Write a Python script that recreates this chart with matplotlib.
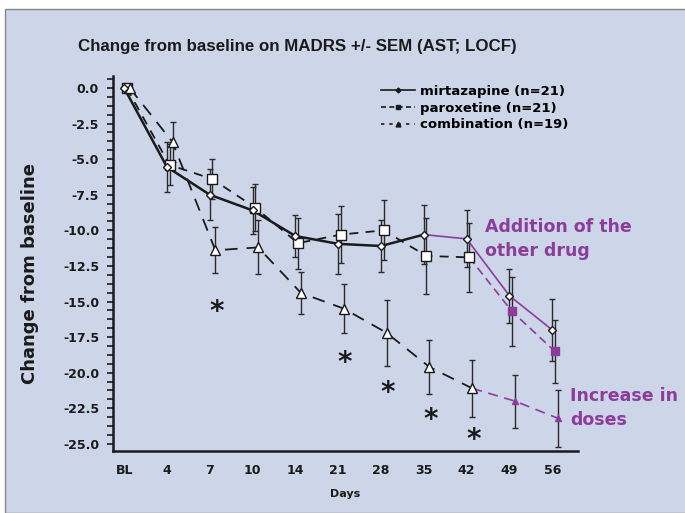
import numpy as np
import matplotlib.pyplot as plt
from matplotlib.lines import Line2D
from matplotlib.patches import Rectangle
from matplotlib.ticker import MultipleLocator

plt.rcParams['font.family'] = 'DejaVu Sans'

days = ['BL', '4', '7', '10', '14', '21', '28', '35', '42', '49', '56']
mirt = [0, -5.55, -7.5, -8.6, -10.4, -10.95, -11.1, -10.3, -10.6, -14.6, -17.0]
mirt_sem = [0, 1.75, 1.8, 1.65, 1.5, 2.1, 1.8, 2.1, 2.0, 1.9, 2.2]
parox = [0, -5.4, -6.4, -8.4, -10.9, -10.3, -10.0, -11.8, -11.9, -15.7, -18.5]
parox_sem = [0, 1.45, 1.4, 1.65, 1.8, 2.0, 2.1, 2.7, 2.4, 2.45, 2.2]
combo = [0, -3.8, -11.4, -11.2, -14.4, -15.5, -17.2, -19.6, -21.1, -22.0, -23.2]
combo_sem = [0, 1.4, 1.6, 1.9, 1.5, 1.7, 2.3, 1.9, 2.0, 1.85, 2.0]

# significance stars (day index, y)
star_idx = [2, 5, 6, 7, 8]
star_y = [-15.4, -19.0, -21.1, -23.0, -24.4]

bg = '#cdd5e8'
purple = '#8c3d9a'
ink = '#1a1a1a'

fig = plt.figure(figsize=(6.85, 5.13), dpi=100, facecolor='white')
fig.patches.append(Rectangle((5 / 685, 0), 1, (513 - 9) / 513, transform=fig.transFigure,
                             facecolor=bg, edgecolor='#888888', lw=1, zorder=-10))
ax = fig.add_axes([113 / 685, 62 / 513, 465 / 685, 375 / 513])
ax.set_facecolor('none')

x = np.arange(len(days))
xm = x + 0.0
xp = x + 0.06
xc = x + 0.13

# error bars
for xx, yy, ee in [(xm, mirt, mirt_sem), (xp, parox, parox_sem), (xc, combo, combo_sem)]:
    ax.errorbar(xx[1:], yy[1:], yerr=ee[1:], fmt='none', ecolor='#2a2a2a', elinewidth=1,
                capsize=2.5, capthick=1, zorder=2)

# mirtazapine
ax.plot(xm[:8], mirt[:8], color=ink, lw=1.8, zorder=3)
ax.plot(xm[7:], mirt[7:], color=purple, lw=1.2, zorder=3)
ax.plot(xm, mirt, ls='none', marker='D', ms=4.5, mfc='white', mec=ink, mew=1, zorder=5)

# paroxetine
ax.plot(xp[:9], parox[:9], color=ink, lw=1.3, dashes=(5, 4), zorder=3)
ax.plot(xp[8:], parox[8:], color=purple, lw=1.2, dashes=(5, 3), zorder=3)
ax.plot(xp[:9], parox[:9], ls='none', marker='s', ms=6.5, mfc='white', mec=ink, mew=1, zorder=4)
ax.plot(xp[9:], parox[9:], ls='none', marker='s', ms=6, mfc=purple, mec=purple, zorder=4)

# combination
ax.plot(xc[:9], combo[:9], color=ink, lw=1.3, dashes=(7, 5), zorder=3)
ax.plot(xc[8:], combo[8:], color=purple, lw=1.2, dashes=(6, 4), zorder=3)
ax.plot(xc[:9], combo[:9], ls='none', marker='^', ms=6.5, mfc='white', mec=ink, mew=1, zorder=4)
ax.plot(xc[9:], combo[9:], ls='none', marker='^', ms=5, mfc=purple, mec=purple, zorder=4)

for i, yv in zip(star_idx, star_y):
    ax.text(i + 0.16, yv - 0.35, '*', fontsize=20, fontweight='bold', ha='center', va='center', color=ink)

ax.set_xlim(-0.26, 10.6)
ax.set_ylim(-25.5, 0.84)
ax.set_xticks(x)
ax.set_xticklabels(days, fontsize=9, fontweight='bold', color=ink)
ax.tick_params(axis='x', length=0, pad=9)
yt = np.arange(0, -25.1, -2.5)
ax.set_yticks(yt)
ax.set_yticklabels(['%.1f' % v for v in yt], fontsize=9, fontweight='bold', color=ink)
ax.yaxis.set_minor_locator(MultipleLocator(0.625))
ax.tick_params(axis='y', which='both', length=4, width=1.2, pad=6, color=ink)
for s in ['top', 'right']:
    ax.spines[s].set_visible(False)
for s in ['left', 'bottom']:
    ax.spines[s].set_linewidth(1.8)
    ax.spines[s].set_color(ink)

ax.set_xlabel('Days', fontsize=8, fontweight='bold', labelpad=9, color=ink)
fig.text(30 / 685, 1 - 273 / 513, 'Change from baseline', rotation=90, fontsize=13,
         fontweight='bold', ha='center', va='center', color=ink)
fig.text(78 / 685, 1 - 47 / 513, 'Change from baseline on MADRS +/- SEM (AST; LOCF)',
         family='Liberation Sans', fontsize=12.2, fontweight='bold', ha='left', va='center',
         color=ink)

handles = [
    Line2D([], [], color=ink, lw=1.2, marker='D', ms=2.5, mfc=ink),
    Line2D([], [], color=ink, lw=1.2, dashes=(3, 2), marker='s', ms=3.5, mfc=ink),
    Line2D([], [], color=ink, lw=1.2, dashes=(2, 3), marker='^', ms=3.5, mfc=ink),
]
ax.legend(handles, ['mirtazapine (n=21)', 'paroxetine (n=21)', 'combination (n=19)'],
          loc='upper left', bbox_to_anchor=(259 / 465, 1.0), frameon=False,
          prop={'weight': 'bold', 'size': 9.5}, handlelength=2.6, handletextpad=0.4,
          labelspacing=0.3, borderaxespad=0.25)

fig.text(485 / 685, 1 - 239 / 513, 'Addition of the\nother drug', fontsize=12.5,
         fontweight='bold', color=purple, ha='left', va='center', linespacing=1.45)
fig.text(570 / 685, 1 - 408 / 513, 'Increase in\ndoses', fontsize=12.5,
         fontweight='bold', color=purple, ha='left', va='center', linespacing=1.45)

fig.savefig('out.png', dpi=100, facecolor='white')
